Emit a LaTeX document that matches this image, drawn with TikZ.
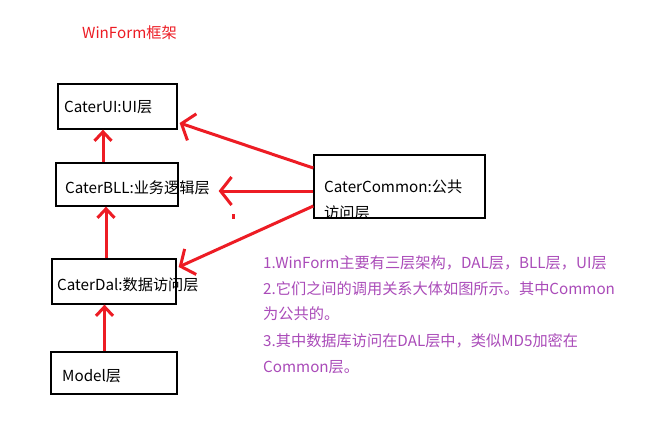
\documentclass[tikz,border=0pt]{standalone}
\usepackage{fontspec}
\setmainfont{Noto Sans CJK SC}
\usetikzlibrary{arrows.meta,calc}
\definecolor{pred}{RGB}{237,28,36}
\definecolor{ppurple}{RGB}{170,75,185}
\begin{document}
\begin{tikzpicture}[x=1pt,y=-1pt,
  box/.style={draw=black,line width=1.3pt,inner sep=0pt},
  txt/.style={anchor=west,inner sep=0pt,font=\fontsize{15.2}{20}\selectfont},
  note/.style={txt,text=ppurple},
  harr/.style={draw=pred,line width=3pt,-{Straight Barb[length=11pt,width=28pt]}},
  varr/.style={draw=pred,line width=3pt,-{Straight Barb[length=9pt,width=17pt]}}]
\useasboundingbox (0,0) rectangle (652,434);
\fill[white] (0,0) rectangle (652,434);
% title
\node[txt,text=pred] (title) at (82,33) {WinForm框架};
% boxes
\node[box,minimum width=119pt,minimum height=45pt] (ui) at (117.5,106.5) {};
\node[box,minimum width=122pt,minimum height=43pt] (bll) at (117,184.5) {};
\node[box,minimum width=124pt,minimum height=45pt] (dal) at (114,281.5) {};
\node[box,minimum width=126pt,minimum height=42pt] (model) at (114,373) {};
\node[box,minimum width=171pt,minimum height=63pt] (common) at (399.5,186.5) {};
% box texts
\node[txt] (uit) at (64,107) {CaterUI:UI层};
\node[txt] (bllt) at (65,188) {CaterBLL:业务逻辑层};
\node[txt] (dalt) at (57,285) {CaterDal:数据访问层};
\node[txt] (modelt) at (62,376) {Model层};
\begin{scope}
\clip (common.north west) rectangle (common.south east);
\node[txt] (commont1) at (324,187) {CaterCommon:公共};
\node[txt] (commont2) at (324,213) {访问层};
\end{scope}
% vertical arrows
\draw[varr] ([xshift=-14pt]bll.north) -- ([xshift=-14.5pt]ui.south);
\draw[varr] ([xshift=-8pt]dal.north) -- ([xshift=-11pt]bll.south);
\draw[varr] ([xshift=-9.5pt]model.north) -- ([xshift=-9.5pt]dal.south);
% arrows from common
\draw[harr] ([yshift=18.5pt]common.west) -- ([xshift=2pt,yshift=-16.5pt]ui.east);
\draw[harr] ([yshift=-4.5pt]common.west) -- ([xshift=40pt,yshift=-6.5pt]bll.east);
\draw[harr] ([yshift=-19.5pt]common.west) -- ([xshift=2pt,yshift=14.5pt]dal.east);
% small mark
\fill[pred] (232,214) rectangle (235,219);
% notes
\node[note] (n1) at (263,263) {1.WinForm主要有三层架构，DAL层，BLL层，UI层};
\node[note] (n2) at (263,289) {2.它们之间的调用关系大体如图所示。其中Common};
\node[note] (n3) at (263,314) {为公共的。};
\node[note] (n4) at (263,341) {3.其中数据库访问在DAL层中，类似MD5加密在};
\node[note] (n5) at (263,367) {Common层。};
\end{tikzpicture}
\end{document}
